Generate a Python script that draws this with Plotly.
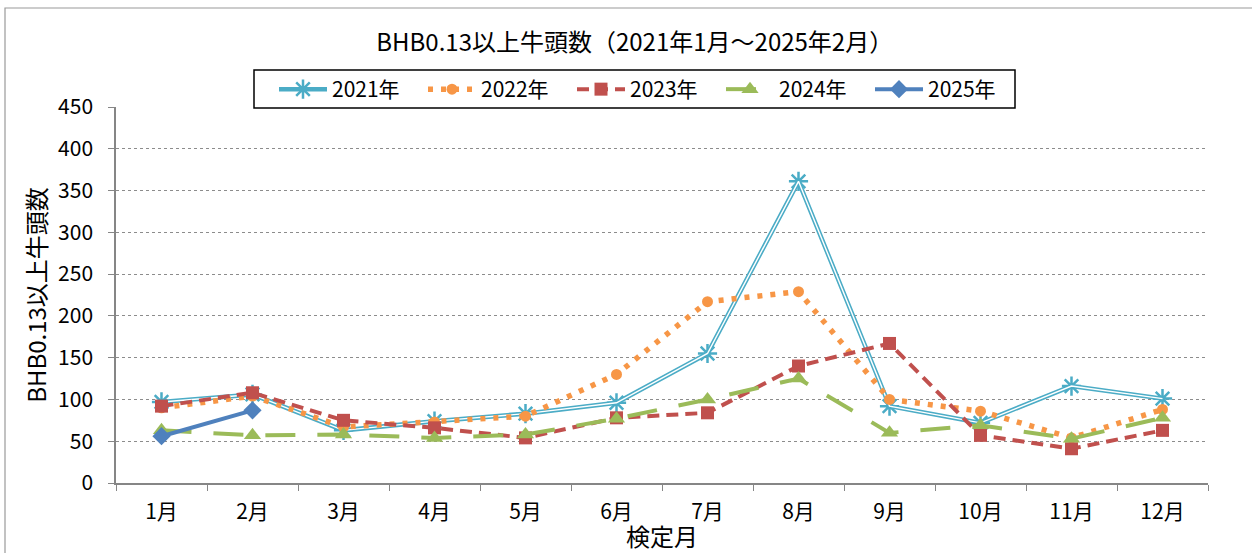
import plotly.graph_objects as go

months = ["1月", "2月", "3月", "4月", "5月", "6月", "7月", "8月", "9月", "10月", "11月", "12月"]
y2021 = [97, 106, 63, 74, 83, 96, 155, 361, 92, 72, 116, 101]
y2022 = [90, 104, 67, 73, 80, 130, 217, 229, 100, 86, 54, 88]
y2023 = [92, 108, 75, 66, 54, 78, 84, 140, 167, 57, 41, 63]
y2024 = [63, 57, 58, 54, 58, 77, 100, 125, 60, 69, 53, 78]
y2025 = [56, 87]

yticks = [0, 50, 100, 150, 200, 250, 300, 350, 400, 450]

FONT = "Noto Sans CJK JP"

# plot-area geometry (pixels) used to place paper-referenced items
L, R, T, B = 116, 1208, 107, 483
PW, PH = R - L, B - T


def px_x(x):
    return (x - L) / PW


def px_y(y):
    return (B - y) / PH


fig = go.Figure()

# 2021: double line
fig.add_trace(go.Scatter(
    x=months, y=y2021, name="2021年", mode="lines+markers",
    line=dict(color="#4BACC6", width=4.5),
    marker=dict(symbol="asterisk-open", size=16, color="#4BACC6",
                line=dict(color="#4BACC6", width=2.5)),
    legendgroup="2021"))
fig.add_trace(go.Scatter(
    x=months, y=y2021, mode="lines", showlegend=False, hoverinfo="skip",
    line=dict(color="white", width=1.4), legendgroup="2021"))

fig.add_trace(go.Scatter(
    x=months, y=y2022, name="2022年", mode="lines+markers",
    line=dict(color="#F79646", width=5.5, dash="5px,8px"),
    marker=dict(symbol="circle", size=11, color="#F79646")))

fig.add_trace(go.Scatter(
    x=months, y=y2023, name="2023年", mode="lines+markers",
    line=dict(color="#C0504D", width=4, dash="12px,7px"),
    marker=dict(symbol="square", size=13, color="#C0504D")))

fig.add_trace(go.Scatter(
    x=months, y=y2024, name="2024年", mode="lines+markers",
    line=dict(color="#9BBB59", width=4, dash="30px,22px"),
    marker=dict(symbol="triangle-up", size=15, color="#9BBB59")))

fig.add_trace(go.Scatter(
    x=months[:len(y2025)], y=y2025, name="2025年", mode="lines+markers",
    line=dict(color="#4F81BD", width=4),
    marker=dict(symbol="diamond", size=14, color="#4F81BD")))

fig.update_layout(
    width=1252, height=553,
    margin=dict(l=L, r=1252 - R, t=T, b=553 - B, autoexpand=False),
    paper_bgcolor="white", plot_bgcolor="white",
    font=dict(family=FONT, size=20, color="black"),
    title=dict(text="BHB0.13以上牛頭数（2021年1月～2025年2月）",
               x=0.507, xanchor="center", y=1 - 43 / 553, yanchor="middle",
               font=dict(size=24, family=FONT)),
    legend=dict(orientation="h", x=px_x(274), y=px_y(69),
                xanchor="left", yanchor="top",
                borderwidth=0, bgcolor="rgba(0,0,0,0)",
                font=dict(size=21, family=FONT),
                itemwidth=48, tracegroupgap=0,
                entrywidth=86, entrywidthmode="pixels"),
    showlegend=True,
)

fig.update_xaxes(
    type="category", categoryorder="array", categoryarray=months,
    range=[-0.5, 11.5], tickson="boundaries",
    ticks="outside", ticklen=6, tickcolor="#868686",
    showline=True, linecolor="#868686", linewidth=1.5,
    showgrid=False, zeroline=False, automargin=False,
    tickfont=dict(size=21, family=FONT), ticklabelstandoff=9,
    title=dict(text="検定月", font=dict(size=24, family=FONT), standoff=3),
)

fig.update_yaxes(
    range=[0, 450], tickvals=yticks, ticktext=[str(v) for v in yticks],
    ticks="outside", ticklen=6, tickcolor="#868686",
    showline=True, linecolor="#868686", linewidth=1.5,
    showgrid=True, gridcolor="#8c8c8c", griddash="dot", gridwidth=1,
    zeroline=False, automargin=False,
    tickfont=dict(size=21, family=FONT), ticklabelstandoff=11,
    title=dict(text="BHB0.13以上牛頭数", font=dict(size=24, family=FONT), standoff=5),
)

# outer chart border
fig.add_shape(type="rect", xref="paper", yref="paper",
              x0=px_x(5), x1=1.2, y0=-0.5, y1=px_y(8),
              line=dict(color="#9a9a9a", width=1.2), fillcolor="rgba(0,0,0,0)",
              layer="below")

# legend frame
fig.add_shape(type="rect", xref="paper", yref="paper",
              x0=px_x(254), x1=px_x(1015), y0=px_y(108), y1=px_y(70),
              line=dict(color="black", width=1.5), fillcolor="white",
              layer="above")

fig.write_html("out.html", config={"displayModeBar": False},
               post_script="document.body.style.margin='0px';")
